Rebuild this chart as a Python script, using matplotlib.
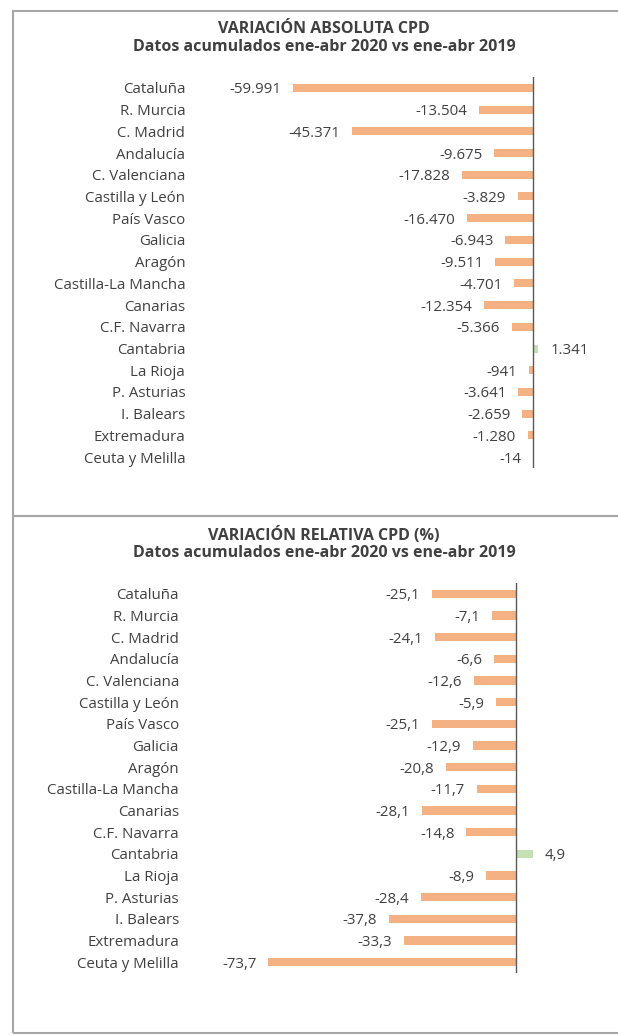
import matplotlib
matplotlib.use("Agg")
import matplotlib.pyplot as plt
from matplotlib.patches import Rectangle

# ── Data ────────────────────────────────────────────────────────────────
regions = ["Cataluña", "R. Murcia", "C. Madrid", "Andalucía", "C. Valenciana",
           "Castilla y León", "País Vasco", "Galicia", "Aragón",
           "Castilla-La Mancha", "Canarias", "C.F. Navarra", "Cantabria",
           "La Rioja", "P. Asturias", "I. Balears", "Extremadura",
           "Ceuta y Melilla"]
abs_var = [-59991, -13504, -45371, -9675, -17828, -3829, -16470, -6943, -9511,
           -4701, -12354, -5366, 1341, -941, -3641, -2659, -1280, -14]
rel_var = [-25.1, -7.1, -24.1, -6.6, -12.6, -5.9, -25.1, -12.9, -20.8,
           -11.7, -28.1, -14.8, 4.9, -8.9, -28.4, -37.8, -33.3, -73.7]

title_abs = "VARIACIÓN ABSOLUTA CPD"
title_rel = "VARIACIÓN RELATIVA CPD (%)"
subtitle = "Datos acumulados ene-abr 2020 vs ene-abr 2019"

NEG = "#F4B183"
POS = "#C5E0B4"
TXT = "#404040"
FONT = "Open Sans"
FS = 10.8

W, H = 618, 1035
plt.rcParams["font.family"] = [FONT, "DejaVu Sans"]

fig = plt.figure(figsize=(W / 100, H / 100), dpi=100)


def px_axes(left, top, right, bottom):
    return fig.add_axes([left / W, 1 - bottom / H, (right - left) / W, (bottom - top) / H])


def fmt_abs(v):
    return f"{v:,}".replace(",", ".")


def fmt_rel(v):
    return f"{v:.1f}".replace(".", ",")


def draw_panel(ax, values, xlim, fmt, label_pad):
    n = len(values)
    y = list(range(n))
    colors = [POS if v > 0 else NEG for v in values]
    ax.barh(y, values, height=0.37, color=colors, zorder=2)
    ax.set_xlim(*xlim)
    ax.set_ylim(n - 0.5, -0.5)
    ax.axvline(0, color="#595959", linewidth=1.0, zorder=3)
    for s in ax.spines.values():
        s.set_visible(False)
    ax.set_xticks([])
    ax.set_yticks(y)
    ax.set_yticklabels(regions, fontsize=FS, color=TXT, va="center_baseline")
    ax.tick_params(axis="y", length=0, pad=label_pad)
    for yi, v in zip(y, values):
        off = 8.5 if v > 0 else -8.5
        ax.annotate(fmt(v), (v, yi), xytext=(off, 0), textcoords="offset points",
                    ha="left" if v > 0 else "right", va="center_baseline",
                    fontsize=FS, color=TXT)


# Top panel: absolute variation
ax1 = px_axes(213, 77, 613, 468)
draw_panel(ax1, abs_var, (-80000, 20000), fmt_abs, 20)

# Bottom panel: relative variation
ax2 = px_axes(247, 583, 617, 973)
draw_panel(ax2, rel_var, (-80, 30), fmt_rel, 49)

# Titles
for y1, y2, t in [(29, 47, title_abs), (535, 553, title_rel)]:
    fig.text(324 / W, 1 - y1 / H, t, ha="center", va="center",
             fontsize=11.5, fontweight="bold", color=TXT)
    fig.text(324 / W, 1 - y2 / H, subtitle, ha="center", va="center",
             fontsize=11.5, fontweight="bold", color=TXT)

# Chart borders
for top, bot in [(11, 516), (516, 1033)]:
    fig.patches.append(Rectangle((13 / W, 1 - bot / H), 620 / W, (bot - top) / H,
                                 transform=fig.transFigure, fill=False,
                                 edgecolor="#A6A6A6", linewidth=1.5))

fig.savefig("out.png", dpi=100)
